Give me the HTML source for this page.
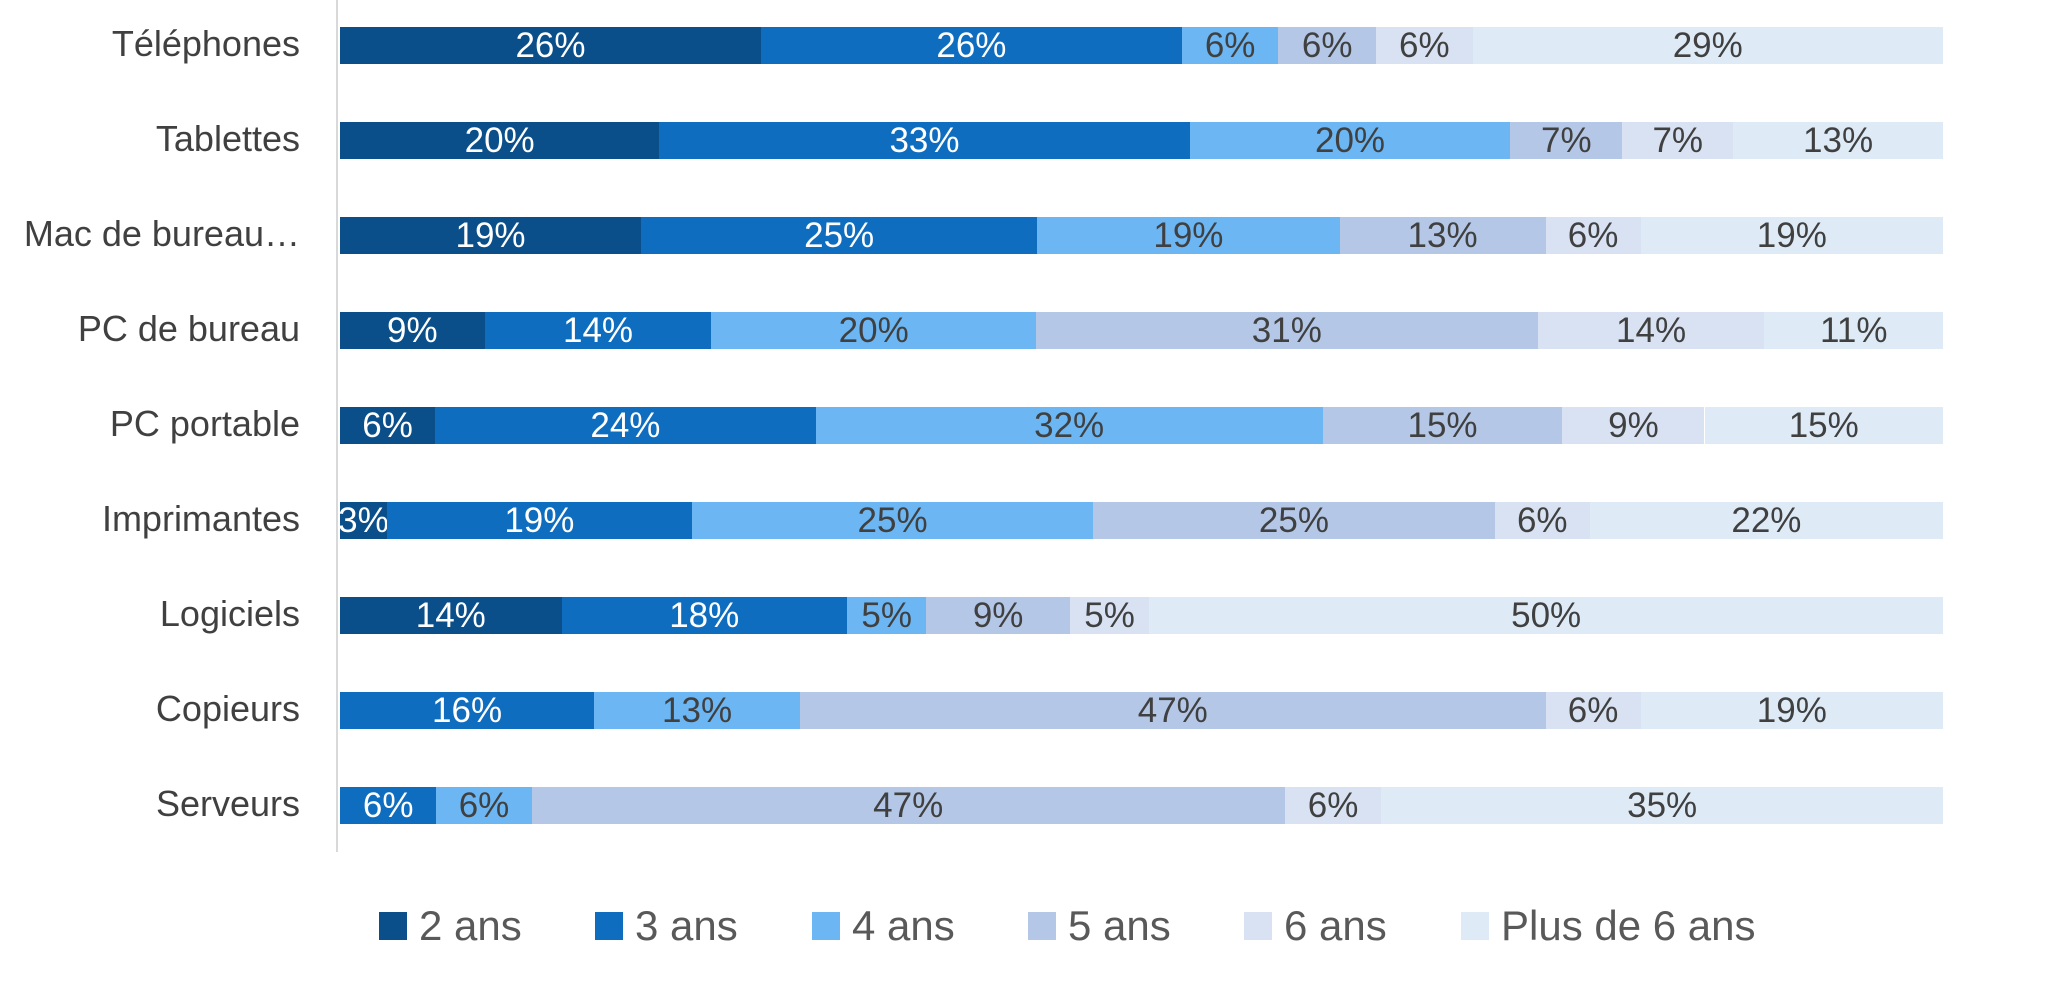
<!DOCTYPE html>
<html><head><meta charset="utf-8"><style>
html,body{margin:0;padding:0;background:#fff;}
#c{position:relative;width:2045px;height:1005px;overflow:hidden;font-family:"Liberation Sans",sans-serif;}
.seg{position:absolute;height:37px;display:flex;align-items:center;justify-content:center;font-size:35px;white-space:nowrap;overflow:visible;}
.cat{position:absolute;right:1745px;font-size:36px;color:#404040;white-space:nowrap;text-align:right;line-height:37px;}
.lg{position:absolute;top:912px;width:28px;height:28px;}
.lt{position:absolute;top:903px;font-size:42px;color:#595959;line-height:46px;white-space:nowrap;}
</style></head><body><div id="c">
<div style="position:absolute;left:336px;top:0;width:2px;height:852px;background:#d9d9d9"></div>
</div>
<script>
const cols=["#0b4f8a","#0f6dbf","#6bb6f3","#b4c7e7","#d9e2f3","#deebf7"];
const tc=["#fff","#fff","#404040","#404040","#404040","#404040"];
const rows=[
["Téléphones",[260,583,906,980,1055,1129,1490],[26,26,6,6,6,29]],
["Tablettes",[260,505,912,1158,1244,1329,1490],[20,33,20,7,7,13]],
["Mac de bureau…",[260,491,795,1027,1185,1258,1490],[19,25,19,13,6,19]],
["PC de bureau",[260,371,545,794,1179,1353,1490],[9,14,20,31,14,11]],
["PC portable",[260,333,625,1014,1198,1307,1490],[6,24,32,15,9,15]],
["Imprimantes",[260,296,530,838,1146,1219,1490],[3,19,25,25,6,22]],
["Logiciels",[260,430,649,710,820,881,1490],[14,18,5,9,5,50]],
["Copieurs",[260,260,455,613,1185,1258,1490],[0,16,13,47,6,19]],
["Serveurs",[260,260,334,407,985,1059,1490],[0,6,6,47,6,35]]
];
const X=d=>340+(d-260)/(1230)*1603;
const c=document.getElementById('c');let h='';
rows.forEach((r,i)=>{const y=27+i*95;
h+=`<div class="cat" style="top:${y-2}px">${r[0]}</div>`;
for(let k=0;k<6;k++){const a=X(r[1][k]),b=X(r[1][k+1]);if(b-a<1)continue;
h+=`<div class="seg" style="left:${a}px;top:${y}px;width:${b-a}px;background:${cols[k]};color:${tc[k]}">${r[2][k]}%</div>`;}
});
const lx=[379,595,812,1028,1244,1461],ln=["2 ans","3 ans","4 ans","5 ans","6 ans","Plus de 6 ans"];
lx.forEach((x,k)=>{h+=`<div class="lg" style="left:${x}px;background:${cols[k]}"></div><div class="lt" style="left:${x+40}px">${ln[k]}</div>`;});
c.insertAdjacentHTML('beforeend',h);
</script></body></html>
